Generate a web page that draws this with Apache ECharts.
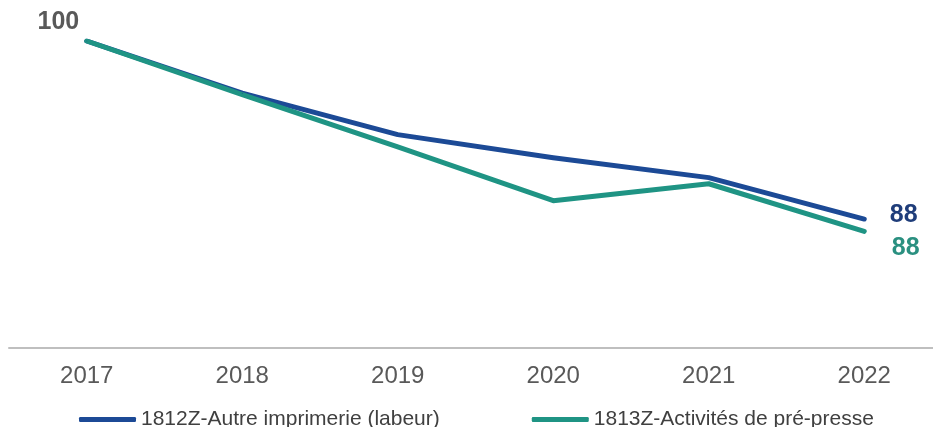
<!DOCTYPE html>
<html>
<head>
<meta charset="utf-8">
<script src="https://cdn.jsdelivr.net/npm/echarts@6/dist/echarts.min.js"></script>
<style>
  html, body { margin: 0; padding: 0; background: #fff; }
  #chart { width: 933px; height: 427px; }
</style>
</head>
<body>
<div id="chart"></div>
<script>
  // données (indice base 100 en 2017)
  var years = ['2017', '2018', '2019', '2020', '2021', '2022'];
  var labeur = [100, 96.6, 93.9, 92.4, 91.1, 88.4];
  var prePresse = [100, 96.5, 93.1, 89.6, 90.7, 87.6];
  var seriesNames = ['1812Z-Autre imprimerie (labeur)', '1813Z-Activités de pré-presse'];

  var blue = '#1c4a96';
  var teal = '#1f9484';

  // etiquettes seulement sur le premier / dernier point
  function buildData(values, first, last) {
    return values.map(function (v, i) {
      var item = { value: v };
      if (i === 0 && first) item.label = first;
      else if (i === values.length - 1 && last) item.label = last;
      return item;
    });
  }

  var labelFont = {
    show: true,
    fontFamily: 'Liberation Sans, Arial, sans-serif',
    fontSize: 25,
    fontWeight: 'bold',
    formatter: function (p) { return Math.round(p.value); }
  };

  var chart = echarts.init(document.getElementById('chart'));
  chart.setOption({
    animation: false,
    grid: { left: 9, right: -9, top: 41, bottom: 79, outerBoundsMode: 'none', containLabel: false },
    legend: {
      left: 74,
      top: 404,
      icon: 'roundRect',
      itemWidth: 57,
      itemHeight: 5,
      itemGap: 92,
      textStyle: { fontFamily: 'Liberation Sans, Arial, sans-serif', fontSize: 21, color: '#404040' },
      data: seriesNames
    },
    xAxis: {
      type: 'category',
      data: years,
      boundaryGap: true,
      axisLine: { lineStyle: { color: '#bfbfbf', width: 2 } },
      axisTick: { show: false },
      axisLabel: { margin: 16, fontFamily: 'Liberation Sans, Arial, sans-serif', fontSize: 24, color: '#595959' }
    },
    yAxis: {
      type: 'value',
      min: 80,
      max: 100,
      show: false
    },
    series: [
      {
        name: seriesNames[0],
        type: 'line',
        color: blue,
        symbol: 'circle',
        symbolSize: 1,
        lineStyle: { width: 5, color: blue, cap: 'round', join: 'round' },
        label: { show: false },
        data: buildData(labeur, null,
          Object.assign({}, labelFont, { position: 'right', distance: 25, offset: [0, -4], color: '#1f3d7a' }))
      },
      {
        name: seriesNames[1],
        type: 'line',
        color: teal,
        symbol: 'circle',
        symbolSize: 1,
        lineStyle: { width: 5, color: teal, cap: 'round', join: 'round' },
        label: { show: false },
        data: buildData(prePresse,
          Object.assign({}, labelFont, { position: 'left', distance: 5, offset: [-2, -19], color: '#595959' }),
          Object.assign({}, labelFont, { position: 'right', distance: 27, offset: [0, 17], color: '#2a9080' }))
      }
    ]
  });
</script>
</body>
</html>
